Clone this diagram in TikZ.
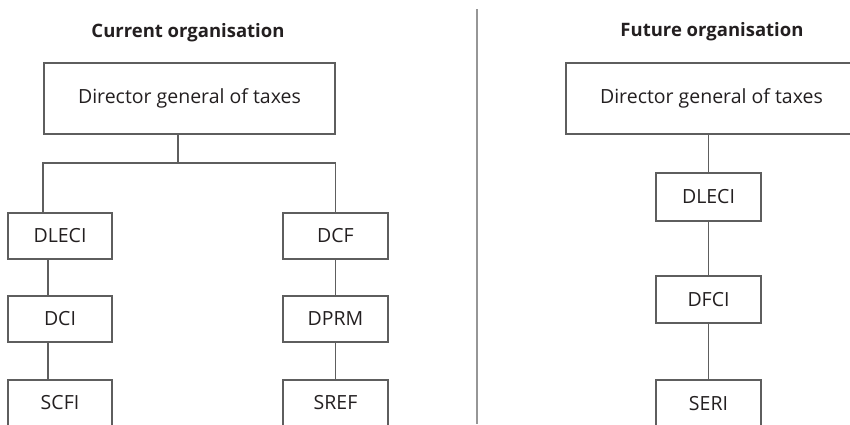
\documentclass[tikz,border=0pt]{standalone}
\usepackage{fontspec}
\setmainfont{Open Sans}
\usepackage{xcolor}
\usetikzlibrary{positioning, calc}
\definecolor{trazo}{HTML}{5E5E5E}
\definecolor{texto}{HTML}{231F20}
\tikzset{
  every picture/.style={font=\fontsize{19.5}{24}\selectfont},
  caja/.style={draw=trazo, line width=1.8pt, text=texto, inner sep=0pt,
               minimum width=104pt, minimum height=46pt},
  cajag/.style={caja, minimum width=291pt, minimum height=71pt},
  titulo/.style={text=texto, font=\fontsize{18.5}{23}\selectfont\bfseries},
  linea/.style={draw=trazo, line width=1.6pt},
}

\begin{document}
\begin{tikzpicture}[x=1pt, y=-1pt]
  \useasboundingbox (0,0) rectangle (850,424);
  \clip (0,0) rectangle (850,424);
  % titles
  \node[titulo] (tcur) at (188,33) {Current organisation};
  \node[titulo] (tfut) at (712,32) {Future organisation};
  % divider
  \coordinate (divtop) at (477,9);
  \coordinate (divbot) at (477,424);
  \draw[linea, line width=1.3pt, draw=trazo!65] (divtop) -- (divbot);
  % current organisation
  \node[cajag] (dgL) at (189.5,98.5) {Director general of taxes};
  \foreach \t/\y [count=\i] in {DLECI/236, DCI/319, SCFI/403} {
    \node[caja] (a\i) at (60,\y) {\t};
  }
  \foreach \t/\y [count=\i] in {DCF/236, DPRM/319, SREF/403} {
    \node[caja, minimum width=105pt] (b\i) at (335.5,\y) {\t};
  }
  \coordinate (fork) at (178,163);
  \draw[linea] (dgL.south -| fork) -- (fork);
  \draw[linea] (a1.north -| dgL.south west) |- (fork -| b1.north) -- (b1.north);
  \draw[linea] ([xshift=-12pt]a1.south) -- ([xshift=-12pt]a2.north);
  \draw[linea] ([xshift=-12pt]a2.south) -- ([xshift=-12pt]a3.north);
  \draw[linea] (b1) -- (b2);
  \draw[linea] (b2) -- (b3);
  % future organisation
  \node[cajag] (dgR) at (711.5,98.5) {Director general of taxes};
  \foreach \t/\y/\h [count=\i] in {DLECI/197/48, DFCI/299.5/47, SERI/404/48} {
    \node[caja, minimum width=105pt, minimum height=\h pt] (c\i) at (708.5,\y) {\t};
  }
  \draw[linea] (c1.north |- dgR.south) -- (c1.north);
  \draw[linea] (c1) -- (c2);
  \draw[linea] (c2) -- (c3);
\end{tikzpicture}
\end{document}
